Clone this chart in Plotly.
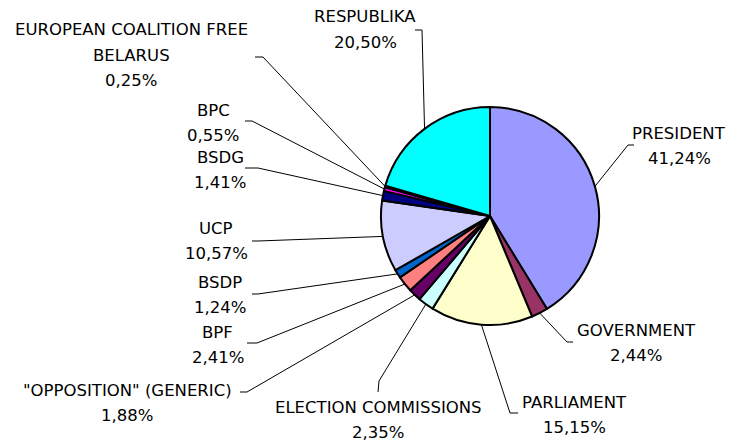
import math
import plotly.graph_objects as go

# page body has an 8px default margin; the figure is sized to fit inside the window
OFF = 8
W, H = 734 - OFF, 447 - OFF

categories = ["PRESIDENT", "GOVERNMENT", "PARLIAMENT", "ELECTION COMMISSIONS",
              "\"OPPOSITION\" (GENERIC)", "BPF", "BSDP", "UCP", "BSDG", "BPC",
              "EUROPEAN COALITION FREE BELARUS", "RESPUBLIKA"]
values = [41.24, 2.44, 15.15, 2.35, 1.88, 2.41, 1.24, 10.57, 1.41, 0.55, 0.25, 20.50]
colors = ["#9999FF", "#993366", "#FFFFCC", "#CCFFFF", "#660066", "#FF8080",
          "#0066CC", "#CCCCFF", "#000080", "#FF00FF", "#FFFF00", "#00FFFF"]
label_lines = [["PRESIDENT"], ["GOVERNMENT"], ["PARLIAMENT"], ["ELECTION COMMISSIONS"],
               ["\"OPPOSITION\" (GENERIC)"], ["BPF"], ["BSDP"], ["UCP"], ["BSDG"], ["BPC"],
               ["EUROPEAN COALITION FREE", "BELARUS"], ["RESPUBLIKA"]]

# layout (window-pixel positions of label blocks and leader-line elbows)
label_pos = [(679, 133), (636, 330), (574, 402), (378, 407), (127, 390), (218, 332),
             (220, 282), (216, 228), (220, 157), (213, 110), (131, 30), (365, 17)]
leader_pts = [((634, 145), (628, 145)), ((573, 342), (567, 342)), ((518, 413), (510, 413)),
              ((378, 392), (379, 381)), ((240, 392), (247, 392)), ((247, 343), (257, 343)),
              ((252, 294), (258, 294)), ((252, 241), (258, 241)), ((245, 168), (258, 168)),
              ((245, 121), (252, 121)), ((255, 57), (263, 57)), ((415, 30), (422, 30))]
CX, CY, R = 490, 216, 109
LINE_H = 25
FONT = dict(family="DejaVu Sans", size=16.5, color="#000000")


def px(x):
    return (x - OFF) / W


def py(y):
    return 1 - (y - OFF) / H


fig = go.Figure(go.Pie(
    labels=categories, values=values, sort=False, direction="clockwise", rotation=0,
    marker=dict(colors=colors, line=dict(color="black", width=2)),
    textinfo="none", hoverinfo="label+percent", showlegend=False,
    domain=dict(x=[px(CX - R), px(CX + R)], y=[py(CY + R), py(CY - R)]),
))

total = sum(values)
cum = 0.0
shapes = []
annotations = []
for i, v in enumerate(values):
    mid = (cum + v / 2) / total * 2 * math.pi
    cum += v
    ex = CX + R * math.sin(mid)
    ey = CY - R * math.cos(mid)
    (sx, sy), (bx, by) = leader_pts[i]
    path = f"M {px(sx)} {py(sy)} L {px(bx)} {py(by)} L {px(ex)} {py(ey)}"
    shapes.append(dict(type="path", xref="paper", yref="paper", path=path,
                       line=dict(color="black", width=1)))
    lines = label_lines[i] + [f"{v:.2f}".replace(".", ",") + "%"]
    lx, ly = label_pos[i]
    for j, t in enumerate(lines):
        annotations.append(dict(text=t, x=px(lx), y=py(ly + j * LINE_H), xref="paper",
                                yref="paper", xanchor="center", yanchor="middle",
                                showarrow=False, font=FONT))

fig.update_layout(width=W, height=H, margin=dict(l=0, r=0, t=0, b=0),
                  paper_bgcolor="white", plot_bgcolor="white",
                  shapes=shapes, annotations=annotations)
fig.write_html("out.html")
